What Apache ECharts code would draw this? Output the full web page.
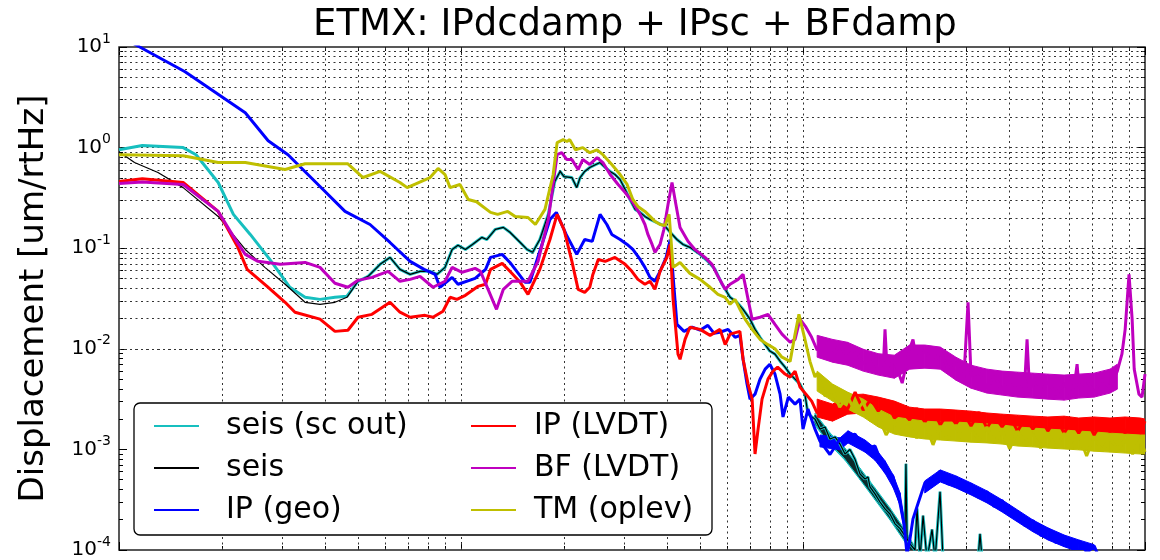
<!DOCTYPE html>
<html>
<head>
<meta charset="utf-8">
<title>ETMX: IPdcdamp + IPsc + BFdamp</title>
<script src="https://cdn.jsdelivr.net/npm/echarts@6/dist/echarts.min.js"></script>
<style>
  html, body { margin: 0; padding: 0; background: #fff; }
  #chart { width: 1160px; height: 560px; }
</style>
</head>
<body>
<div id="chart"></div>
<script>
const FONT = 'DejaVu Sans';

// axis ticks (Hz on x, um/rtHz on y)
const xTicks = [0.01, 0.1, 1, 10];
const yTicks = [0.0001, 0.001, 0.01, 0.1, 1, 10];
const mantissas = [2, 3, 4, 5, 6, 7, 8, 9];

// seis (sc out), below 0.05 Hz
const seisScLow = [
  [0.01, 0.95], [0.0117, 1.05], [0.0154, 1.0], [0.0168, 0.85], [0.0195, 0.45], [0.0216, 0.217],
  [0.0242, 0.137], [0.0276, 0.0773], [0.0316, 0.0409], [0.035, 0.0325], [0.0387, 0.031],
  [0.0428, 0.0325], [0.0464, 0.0333]
];
// seis, below 0.05 Hz
const seisLow = [
  [0.01, 0.91], [0.0111, 0.71], [0.013, 0.565], [0.0154, 0.40], [0.0195, 0.207], [0.0234, 0.0972],
  [0.0267, 0.0645], [0.0306, 0.0438], [0.035, 0.029], [0.0387, 0.0277], [0.0428, 0.029], [0.0464, 0.0325]
];
// both seis traces lie on top of each other above 0.05 Hz
const seisShared = [
  [0.05, 0.0469], [0.0535, 0.0525], [0.058, 0.0691], [0.062, 0.081], [0.0663, 0.0616], [0.071, 0.0549],
  [0.0759, 0.0589], [0.0812, 0.0589], [0.0851, 0.0549], [0.0898, 0.0645], [0.0942, 0.0972], [0.098, 0.107],
  [0.103, 0.0972], [0.108, 0.109], [0.115, 0.128], [0.119, 0.122], [0.126, 0.154], [0.133, 0.161],
  [0.139, 0.144], [0.149, 0.114], [0.156, 0.0972], [0.162, 0.091], [0.17, 0.122], [0.18, 0.217],
  [0.188, 0.46], [0.195, 0.58], [0.2, 0.515], [0.211, 0.504], [0.218, 0.40], [0.223, 0.504], [0.23, 0.58],
  [0.238, 0.634], [0.248, 0.68], [0.255, 0.71], [0.264, 0.634], [0.273, 0.58], [0.282, 0.54], [0.292, 0.48],
  [0.302, 0.383], [0.312, 0.305], [0.323, 0.243], [0.334, 0.227], [0.345, 0.207], [0.357, 0.193],
  [0.374, 0.18], [0.395, 0.165], [0.409, 0.144], [0.428, 0.122], [0.446, 0.109], [0.467, 0.102],
  [0.5, 0.0868], [0.527, 0.074], [0.553, 0.0616], [0.58, 0.0438], [0.612, 0.0325], [0.641, 0.029],
  [0.668, 0.0247], [0.70, 0.0197], [0.724, 0.0156], [0.749, 0.013], [0.775, 0.011], [0.80, 0.0095],
  [0.828, 0.00885], [0.857, 0.00753], [0.886, 0.00657], [0.917, 0.00561], [0.948, 0.005], [0.98, 0.00446],
  [1.013, 0.00354], [1.034, 0.00225], [1.084, 0.002], [1.121, 0.00159], [1.16, 0.00167], [1.199, 0.00127],
  [1.241, 0.00133], [1.283, 0.00113], [1.327, 0.0009], [1.372, 0.001], [1.419, 0.0008], [1.468, 0.00057],
  [1.518, 0.000508], [1.549, 0.000532], [1.57, 0.000424], [1.624, 0.000361], [1.679, 0.0003],
  [1.737, 0.000256], [1.796, 0.000228], [1.858, 0.000182], [1.922, 0.000163], [1.987, 0.000138],
  [2.0, 0.00072], [2.015, 0.000129], [2.055, 0.000115], [2.126, 0.0001], [2.155, 0.00026], [2.198, 0.00008],
  [2.244, 0.00022], [2.305, 0.00008], [2.384, 0.00016], [2.433, 0.00008], [2.516, 0.00038], [2.567, 0.00008],
  [3.249, 0.00008], [3.293, 0.000145], [3.34, 0.00008], [3.6, 0.00006]
];
// noise bands of the seis traces: [freq, lower edge, upper edge]
const seisScBand = [
  [1.084, 0.00174, 0.00229], [1.199, 0.00111, 0.00146], [1.327, 0.00078, 0.00103], [1.468, 0.0005, 0.00065],
  [1.624, 0.000315, 0.000414], [1.796, 0.000199, 0.000262], [1.987, 0.00012, 0.000158], [2.1, 0.000087, 0.000115]
];
const seisBand = [
  [1.084, 0.00183, 0.00219], [1.199, 0.00116, 0.00139], [1.327, 0.00082, 0.00099], [1.468, 0.00052, 0.00062],
  [1.624, 0.00033, 0.000395], [1.796, 0.000208, 0.00025], [1.987, 0.000126, 0.000151], [2.1, 0.000091, 0.00011]
];

const ipGeo = [
  [0.01, 13], [0.0115, 10], [0.0156, 5.68], [0.0234, 2.22], [0.0273, 1.17], [0.0312, 0.85], [0.0395, 0.383],
  [0.0458, 0.232], [0.0542, 0.172], [0.062, 0.114], [0.071, 0.074], [0.078, 0.0616], [0.084, 0.0549],
  [0.0868, 0.0409], [0.0942, 0.0513], [0.098, 0.0438], [0.11, 0.0501], [0.118, 0.0616], [0.122, 0.081],
  [0.132, 0.0868], [0.139, 0.0722], [0.154, 0.0458], [0.159, 0.0458], [0.167, 0.0773], [0.182, 0.193],
  [0.19, 0.227], [0.203, 0.137], [0.218, 0.0868], [0.23, 0.122], [0.242, 0.117], [0.255, 0.217],
  [0.267, 0.172], [0.276, 0.137], [0.292, 0.122], [0.306, 0.109], [0.318, 0.0972], [0.334, 0.0773],
  [0.345, 0.0645], [0.357, 0.0513], [0.369, 0.0469], [0.382, 0.0589], [0.398, 0.081], [0.409, 0.122],
  [0.42, 0.039], [0.428, 0.0175], [0.449, 0.0149], [0.474, 0.0164], [0.5, 0.0153], [0.527, 0.0171],
  [0.549, 0.0143], [0.572, 0.0146], [0.604, 0.0156], [0.633, 0.013], [0.654, 0.0136], [0.668, 0.00787],
  [0.686, 0.00446], [0.70, 0.00316], [0.724, 0.00354], [0.749, 0.005], [0.775, 0.00628], [0.8, 0.00703],
  [0.828, 0.00561], [0.857, 0.00354], [0.874, 0.0021], [0.906, 0.00331], [0.948, 0.00282], [0.98, 0.00316],
  [1.0, 0.00159], [1.034, 0.00252], [1.084, 0.00159], [1.121, 0.00121], [1.199, 0.00089], [1.283, 0.00127],
  [1.354, 0.00136], [1.419, 0.00142], [1.518, 0.00101], [1.624, 0.00108], [1.737, 0.0006], [1.833, 0.00054],
  [1.922, 0.00029], [1.974, 0.000182], [2.015, 0.00009], [2.055, 0.000129], [2.097, 0.000204],
  [2.169, 0.00029], [2.274, 0.00047], [2.384, 0.00045], [2.516, 0.00061], [2.655, 0.00045], [2.8, 0.00053],
  [2.96, 0.00039], [3.1, 0.00045], [3.27, 0.00033], [3.45, 0.00038], [3.62, 0.00027], [3.82, 0.00031],
  [4.03, 0.00022], [4.25, 0.00024], [4.46, 0.000174], [4.71, 0.000196], [4.97, 0.000138], [5.21, 0.000162],
  [5.49, 0.000118], [5.8, 0.000138], [6.12, 0.000103], [6.41, 0.000123], [6.77, 0.000094], [7.1, 0.00011],
  [7.39, 0.00008]
];
// noise bands of IP (geo), before and after the notch near 2 Hz
const ipGeoBandA = [
  [1.121, 0.00106, 0.00139], [1.283, 0.00099, 0.0013], [1.354, 0.00116, 0.00153], [1.518, 0.00094, 0.00124],
  [1.624, 0.00078, 0.00103], [1.737, 0.00058, 0.00077], [1.833, 0.00042, 0.00056], [1.922, 0.00028, 0.00037],
  [1.974, 0.00016, 0.00021], [2.015, 0.00009, 0.000115]
];
const ipGeoBand = [
  [2.27, 0.000369, 0.000486], [2.52, 0.000475, 0.000625], [2.8, 0.000414, 0.000545], [3.1, 0.000353, 0.000464],
  [3.45, 0.000294, 0.000387], [3.82, 0.000239, 0.000315], [4.24, 0.00019, 0.00025], [4.7, 0.000152, 0.000199],
  [5.2, 0.000126, 0.000166], [5.8, 0.000108, 0.000141], [6.4, 0.000096, 0.000126], [7.1, 0.000086, 0.000113]
];

const ipLvdtLow = [
  [0.01, 0.46], [0.0117, 0.49], [0.0154, 0.45], [0.0195, 0.232], [0.0222, 0.104], [0.0237, 0.0616],
  [0.0271, 0.0417], [0.0306, 0.029], [0.0327, 0.0231], [0.0387, 0.0197], [0.0428, 0.0149], [0.0467, 0.0153],
  [0.05, 0.0206], [0.0549, 0.022], [0.062, 0.029], [0.0663, 0.0231], [0.071, 0.0206], [0.0785, 0.0215],
  [0.0828, 0.0206], [0.0886, 0.0236], [0.0929, 0.0325], [0.0973, 0.031], [0.103, 0.034], [0.112, 0.0417],
  [0.118, 0.0438], [0.122, 0.0616], [0.132, 0.0707], [0.139, 0.0589], [0.149, 0.0458], [0.157, 0.0348],
  [0.17, 0.0616], [0.182, 0.122], [0.191, 0.217], [0.2, 0.154], [0.211, 0.074], [0.22, 0.039], [0.23, 0.0364],
  [0.238, 0.0409], [0.243, 0.0549], [0.252, 0.0773], [0.264, 0.074], [0.282, 0.081], [0.302, 0.0691],
  [0.316, 0.0589], [0.329, 0.049], [0.345, 0.0438], [0.357, 0.0469], [0.369, 0.039], [0.382, 0.0589],
  [0.4, 0.081], [0.409, 0.109], [0.417, 0.031], [0.431, 0.00885], [0.437, 0.00787], [0.452, 0.0124],
  [0.467, 0.0164], [0.5, 0.0156], [0.535, 0.0136], [0.572, 0.0156], [0.592, 0.011], [0.612, 0.014],
  [0.654, 0.0149], [0.668, 0.00787], [0.691, 0.00446], [0.71, 0.00316], [0.724, 0.0009], [0.739, 0.00159],
  [0.759, 0.00316], [0.79, 0.005], [0.817, 0.006], [0.843, 0.00656], [0.886, 0.00561], [0.917, 0.00523],
  [0.948, 0.006], [0.98, 0.00416], [1.02, 0.00354], [1.06, 0.00302]
];

const bfLvdtLow = [
  [0.01, 0.44], [0.0117, 0.455], [0.0154, 0.43], [0.0195, 0.232], [0.0216, 0.131], [0.0234, 0.0868],
  [0.0255, 0.074], [0.0296, 0.0691], [0.035, 0.0722], [0.0387, 0.0645], [0.0428, 0.0448], [0.0467, 0.0409],
  [0.05, 0.0479], [0.0549, 0.0513], [0.0612, 0.0589], [0.0663, 0.0469], [0.071, 0.049], [0.0759, 0.0525],
  [0.0828, 0.0409], [0.0898, 0.0469], [0.0942, 0.0645], [0.1007, 0.0576], [0.11, 0.063], [0.114, 0.0589],
  [0.12, 0.039], [0.127, 0.0247], [0.133, 0.039], [0.141, 0.0469], [0.157, 0.0469], [0.168, 0.074],
  [0.18, 0.193], [0.191, 0.85], [0.197, 0.89], [0.204, 0.76], [0.211, 0.76], [0.22, 0.605], [0.227, 0.76],
  [0.238, 0.68], [0.25, 0.795], [0.26, 0.71], [0.273, 0.54], [0.288, 0.43], [0.302, 0.358], [0.318, 0.285],
  [0.334, 0.217], [0.345, 0.172], [0.352, 0.137], [0.362, 0.109], [0.369, 0.091], [0.382, 0.109],
  [0.392, 0.154], [0.403, 0.272], [0.414, 0.45], [0.425, 0.272], [0.437, 0.161], [0.461, 0.117],
  [0.483, 0.0972], [0.517, 0.081], [0.542, 0.0691], [0.564, 0.0525], [0.592, 0.039], [0.612, 0.0438],
  [0.646, 0.049], [0.668, 0.0549], [0.691, 0.031], [0.71, 0.0197], [0.749, 0.0206], [0.79, 0.022],
  [0.828, 0.0175], [0.868, 0.014], [0.917, 0.0116], [0.948, 0.0124], [0.98, 0.0197], [1.02, 0.0164],
  [1.06, 0.013]
];
const bfLvdtHigh = [
  [1.1, 0.00968], [1.16, 0.0127], [1.22, 0.00845], [1.28, 0.0109], [1.35, 0.00825], [1.42, 0.0101],
  [1.5, 0.00703], [1.58, 0.00864], [1.66, 0.00613], [1.72, 0.00753], [1.737, 0.0156], [1.76, 0.00657],
  [1.85, 0.00753], [1.95, 0.00456], [2.05, 0.0099], [2.097, 0.0124], [2.15, 0.00753], [2.27, 0.00968],
  [2.4, 0.00703], [2.52, 0.00947], [2.65, 0.00642], [2.8, 0.0072], [2.95, 0.00477], [3.038, 0.029],
  [3.1, 0.00535], [3.27, 0.00586], [3.45, 0.00406], [3.63, 0.00535], [3.82, 0.00388], [4.02, 0.00523],
  [4.24, 0.0038], [4.45, 0.00456], [4.52, 0.0124], [4.6, 0.00371], [4.7, 0.00488], [4.95, 0.00354],
  [5.2, 0.00477], [5.5, 0.00347], [5.8, 0.00456], [6.1, 0.00339], [6.25, 0.00499], [6.33, 0.00703],
  [6.42, 0.00397], [6.75, 0.00488], [7.1, 0.00371], [7.5, 0.00499], [7.9, 0.00406], [8.3, 0.006],
  [8.56, 0.00884], [8.75, 0.0156], [8.98, 0.055], [9.17, 0.0197], [9.3, 0.00628], [9.6, 0.00354],
  [9.8, 0.00331], [10, 0.0056]
];
const bfLvdtBand = [
  [1.1, 0.00825, 0.0136], [1.22, 0.00736, 0.0124], [1.35, 0.00687, 0.0116], [1.5, 0.006, 0.0099],
  [1.66, 0.00548, 0.00894], [1.85, 0.0051, 0.00864], [2.05, 0.00628, 0.0109], [2.27, 0.00642, 0.0109],
  [2.52, 0.00628, 0.0104], [2.8, 0.00488, 0.00825], [3.1, 0.00406, 0.00687], [3.45, 0.00363, 0.00628],
  [3.82, 0.00347, 0.006], [4.24, 0.00331, 0.00586], [4.7, 0.00324, 0.00573], [5.2, 0.00316, 0.0056],
  [5.8, 0.00309, 0.00548], [6.4, 0.00324, 0.0056], [7.1, 0.00331, 0.00573], [7.9, 0.00363, 0.00628],
  [8.3, 0.00397, 0.00703]
];

const tmOplevLow = [
  [0.01, 0.85], [0.0154, 0.83], [0.0195, 0.71], [0.0234, 0.71], [0.0306, 0.605], [0.035, 0.69],
  [0.0467, 0.69], [0.0517, 0.504], [0.058, 0.58], [0.0663, 0.45], [0.0696, 0.40], [0.0812, 0.504],
  [0.0857, 0.62], [0.0898, 0.54], [0.0929, 0.40], [0.0993, 0.43], [0.105, 0.305], [0.111, 0.29],
  [0.122, 0.227], [0.128, 0.217], [0.137, 0.232], [0.144, 0.207], [0.157, 0.202], [0.165, 0.172],
  [0.176, 0.243], [0.186, 0.54], [0.191, 1.12], [0.199, 1.2], [0.204, 1.15], [0.208, 1.2], [0.216, 0.953],
  [0.227, 1.0], [0.238, 0.89], [0.25, 0.95], [0.26, 0.85], [0.276, 0.68], [0.292, 0.54], [0.306, 0.43],
  [0.318, 0.305], [0.329, 0.26], [0.345, 0.232], [0.357, 0.207], [0.369, 0.185], [0.382, 0.172],
  [0.395, 0.168], [0.406, 0.217], [0.417, 0.0645], [0.437, 0.0722], [0.467, 0.0562], [0.5, 0.049],
  [0.535, 0.0409], [0.564, 0.0348], [0.592, 0.0325], [0.612, 0.0277], [0.633, 0.031], [0.654, 0.0247],
  [0.677, 0.0197], [0.71, 0.0156], [0.749, 0.0124], [0.79, 0.011], [0.828, 0.01], [0.868, 0.00825],
  [0.917, 0.0075], [0.948, 0.014], [0.973, 0.022], [1.013, 0.0124], [1.048, 0.0075], [1.084, 0.00523]
];

// shared frequency grid for the noisy part above 1 Hz
const hfFreq = [1.1, 1.16, 1.22, 1.28, 1.35, 1.42, 1.5, 1.58, 1.66, 1.75, 1.85, 1.95, 2.05, 2.15, 2.27, 2.4,
  2.52, 2.65, 2.8, 2.95, 3.1, 3.27, 3.45, 3.63, 3.82, 4.02, 4.24, 4.47, 4.7, 4.95, 5.2, 5.5, 5.8, 6.1, 6.4,
  6.75, 7.1, 7.5, 7.9, 8.3, 8.75, 9.2, 9.7, 10];
const ipLvdtHigh = [0.0023, 0.00282, 0.002, 0.00282, 0.00252, 0.00371, 0.00246, 0.00316, 0.0024, 0.00302,
  0.00205, 0.00235, 0.00196, 0.00257, 0.00187, 0.00246, 0.00175, 0.0023, 0.00179, 0.0023,
  0.00171, 0.00235, 0.00163, 0.00214, 0.00167, 0.00214, 0.00152, 0.00205, 0.00159, 0.00205,
  0.00152, 0.00205, 0.00145, 0.00191, 0.00145, 0.00196, 0.00139, 0.00191, 0.00149, 0.00196,
  0.00145, 0.002, 0.00149, 0.00191];
const tmOplevHigh = [0.00573, 0.00339, 0.00388, 0.00263, 0.00339, 0.00235, 0.00295, 0.00191, 0.00214, 0.00139,
  0.00191, 0.00139, 0.00175, 0.0013, 0.00183, 0.00111, 0.00171, 0.00127, 0.00175, 0.00121,
  0.00159, 0.00124, 0.00167, 0.00116, 0.00156, 0.00101, 0.00152, 0.00113, 0.00142, 0.00103,
  0.00142, 0.00103, 0.00145, 0.00103, 0.00139, 0.00086, 0.00133, 0.00096, 0.00133, 0.00099,
  0.00124, 0.0009, 0.00127, 0.00094];

// noise bands: [freq, lower edge, upper edge]
const ipLvdtBand = [
  [1.1, 0.0021, 0.00316], [1.22, 0.00191, 0.00282], [1.35, 0.00224, 0.00347], [1.5, 0.0023, 0.00354],
  [1.66, 0.00219, 0.00331], [1.85, 0.002, 0.00302], [2.05, 0.00179, 0.00263], [2.27, 0.00167, 0.00252],
  [2.52, 0.00159, 0.00252], [2.8, 0.00159, 0.00246], [3.1, 0.00152, 0.0024], [3.45, 0.00152, 0.0023],
  [3.82, 0.00149, 0.00224], [4.24, 0.00145, 0.00219], [4.7, 0.00142, 0.00214], [5.2, 0.00139, 0.0021],
  [5.8, 0.00139, 0.00214], [6.4, 0.00136, 0.00205], [7.1, 0.00136, 0.0021], [7.9, 0.00139, 0.00205],
  [8.75, 0.00136, 0.0021], [9.7, 0.00139, 0.00205], [10, 0.00136, 0.002]
];
const tmOplevBand = [
  [1.1, 0.0038, 0.006], [1.22, 0.00302, 0.00446], [1.35, 0.00252, 0.00371], [1.5, 0.0021, 0.00316],
  [1.66, 0.00167, 0.00252], [1.85, 0.00142, 0.0021], [2.05, 0.00133, 0.002], [2.27, 0.00127, 0.00191],
  [2.52, 0.00124, 0.00187], [2.8, 0.00121, 0.00187], [3.1, 0.00118, 0.00183], [3.45, 0.00116, 0.00179],
  [3.82, 0.00113, 0.00175], [4.24, 0.00108, 0.00167], [4.7, 0.00106, 0.00163], [5.2, 0.00103, 0.00159],
  [5.8, 0.00101, 0.00156], [6.4, 0.00099, 0.00152], [7.1, 0.00096, 0.00149], [7.9, 0.00094, 0.00145],
  [8.75, 0.00092, 0.00142], [9.7, 0.0009, 0.00139], [10, 0.0009, 0.00139]
];

const onGrid = vals => hfFreq.map((f, i) => [f, vals[i]]);

const minorOf = decades => {
  const out = [];
  decades.forEach(d => mantissas.forEach(m => out.push(+(m * d).toPrecision(3))));
  return out;
};
const xMinor = minorOf([0.01, 0.1, 1]);
const yMinor = minorOf([0.0001, 0.001, 0.01, 0.1, 1]);

const gridLines = []
  .concat(xTicks.slice(1, -1), xMinor).map(v => ({ xAxis: v }))
  .concat([].concat(yTicks.slice(1, -1), yMinor).map(v => ({ yAxis: v })));

function logAxis(kind, position, ticks, len, extra) {
  return Object.assign({
    type: 'log',
    logBase: 10,
    position: position,
    min: kind === 'x' ? 0.01 : 0.0001,
    max: 10,
    axisLine: { show: false },
    axisTick: { show: true, inside: true, length: len, customValues: ticks, lineStyle: { color: '#000', width: 1 } },
    axisLabel: { show: false },
    splitLine: { show: false }
  }, extra || {});
}

function line(name, data, color, width) {
  return {
    name: name,
    type: 'line',
    data: data,
    symbol: 'none',
    showSymbol: false,
    lineStyle: { color: color, width: width },
    itemStyle: { color: color },
    emphasis: { disabled: true },
    animation: false
  };
}

// filled noise band: one quad between each pair of neighbouring rows
function band(rows, color) {
  return {
    type: 'custom',
    silent: true,
    clip: true,
    animation: false,
    encode: { x: 0, y: [1, 2] },
    data: rows.slice(0, -1),
    renderItem: (params, api) => {
      const a = rows[params.dataIndex];
      const b = rows[params.dataIndex + 1];
      return {
        type: 'polygon',
        shape: {
          points: [
            api.coord([a[0], a[1]]), api.coord([b[0], b[1]]),
            api.coord([b[0], b[2]]), api.coord([a[0], a[2]])
          ]
        },
        style: { fill: color, stroke: color, lineWidth: 1 }
      };
    }
  };
}

const legendBase = {
  orient: 'vertical', top: 406,
  itemWidth: 45, itemHeight: 14, itemGap: 12,
  selectedMode: false,
  itemStyle: { opacity: 0 }
};
const legendText = pad => ({ fontFamily: FONT, fontSize: 30, color: '#000', lineHeight: 30, padding: [0, 0, 0, pad] });

const chart = echarts.init(document.getElementById('chart'));

chart.setOption({
  backgroundColor: '#fff',
  animation: false,
  title: {
    text: 'ETMX: IPdcdamp + IPsc + BFdamp',
    left: 308,
    top: 2,
    textStyle: { fontFamily: FONT, fontSize: 37, fontWeight: 'normal', color: '#000' }
  },
  grid: {
    left: 119, right: 15, top: 47, bottom: 9,
    show: true, borderColor: '#222', borderWidth: 1.5, backgroundColor: '#fff'
  },
  legend: [
    Object.assign({}, legendBase, {
      data: ['seis (sc out)', 'seis', 'IP (geo)'],
      left: 148,
      textStyle: legendText(22)
    }),
    Object.assign({}, legendBase, {
      data: ['IP (LVDT)', 'BF (LVDT)', 'TM (oplev)'],
      left: 465,
      textStyle: legendText(13)
    })
  ],
  graphic: [{
    type: 'rect',
    z: 3,
    silent: true,
    shape: { x: 134, y: 403, width: 578, height: 132, r: 6 },
    style: { fill: '#fff', stroke: '#000', lineWidth: 1.3 }
  }],
  xAxis: [
    logAxis('x', 'bottom', xTicks, 8),
    logAxis('x', 'top', xTicks, 8),
    logAxis('x', 'bottom', xMinor, 4),
    logAxis('x', 'top', xMinor, 4)
  ],
  yAxis: [
    logAxis('y', 'left', yTicks, 8, {
      name: 'Displacement [um/rtHz]',
      nameLocation: 'middle',
      nameGap: 68,
      nameRotate: 90,
      nameTextStyle: { fontFamily: FONT, fontSize: 34, color: '#000' },
      axisLabel: {
        show: true,
        margin: 8,
        customValues: yTicks,
        formatter: v => '{b|10}{s|' + Math.round(Math.log10(v)) + '}',
        rich: {
          b: { fontFamily: FONT, fontSize: 20, color: '#000', lineHeight: 30 },
          s: { fontFamily: FONT, fontSize: 14, color: '#000', lineHeight: 14, verticalAlign: 'top' }
        }
      }
    }),
    logAxis('y', 'right', yTicks, 8),
    logAxis('y', 'left', yMinor, 4),
    logAxis('y', 'right', yMinor, 4)
  ],
  series: [
    {
      type: 'line',
      data: [],
      silent: true,
      markLine: {
        silent: true,
        z: 1,
        symbol: ['none', 'none'],
        label: { show: false },
        lineStyle: { color: '#333', width: 1, type: [2, 3.5] },
        emphasis: { disabled: true },
        animation: false,
        data: gridLines
      }
    },
    band(seisScBand, '#17bfbf'),
    line('seis (sc out)', seisScLow.concat(seisShared), '#17bfbf', 3),
    band(seisBand, '#0a2a2a'),
    line('seis', seisLow.concat(seisShared), '#000000', 1.2),
    band(ipGeoBandA, '#0000ff'),
    band(ipGeoBand, '#0000ff'),
    line('IP (geo)', ipGeo, '#0000ff', 3),
    band(ipLvdtBand, '#ff0000'),
    line('IP (LVDT)', ipLvdtLow.concat(onGrid(ipLvdtHigh)), '#ff0000', 3),
    band(bfLvdtBand, '#bf00bf'),
    line('BF (LVDT)', bfLvdtLow.concat(bfLvdtHigh), '#bf00bf', 3),
    band(tmOplevBand, '#bfbf00'),
    line('TM (oplev)', tmOplevLow.concat(onGrid(tmOplevHigh)), '#bfbf00', 3)
  ]
});
</script>
</body>
</html>
